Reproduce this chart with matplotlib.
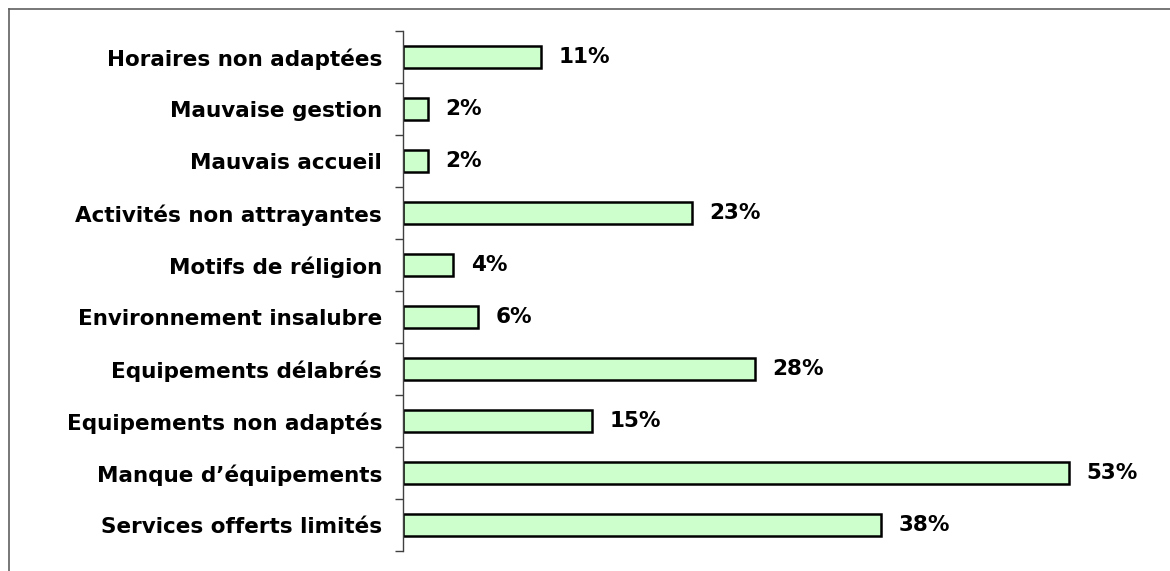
import numpy as np
import matplotlib.pyplot as plt
from matplotlib.lines import Line2D

# Raisons de non-fréquentation, du bas vers le haut
categories = ['Services offerts limités', 'Manque d\u2019équipements',
              'Equipements non adaptés', 'Equipements délabrés',
              'Environnement insalubre', 'Motifs de réligion',
              'Activités non attrayantes', 'Mauvais accueil',
              'Mauvaise gestion', 'Horaires non adaptées']
values = [38, 53, 15, 28, 6, 4, 23, 2, 2, 11]

plt.rcParams['font.family'] = 'DejaVu Sans'

fig = plt.figure(figsize=(11.7, 5.71), dpi=100)
ax = fig.add_axes([403 / 1170, 1 - 551 / 571, 747 / 1170, 520 / 571])

y = np.arange(len(categories))
ax.barh(y, values, height=0.41, color='#ccffcc', edgecolor='black',
        linewidth=1.8)
for yi, v in zip(y, values):
    ax.text(v + 1.4, yi, '{}%'.format(v), va='center', ha='left',
            fontsize=15.5, fontweight='bold')

ax.set_xlim(0, 747 / 12.57)
ax.set_ylim(-0.5, len(categories) - 0.5)

ax.set_yticks(y)
ax.set_yticklabels(categories, fontsize=15.5, fontweight='bold')
ax.tick_params(axis='y', which='major', length=0, pad=15)
ax.set_yticks(np.arange(-0.5, len(categories)), minor=True)
ax.tick_params(axis='y', which='minor', length=6, width=1, color='#404040',
               direction='out')
ax.set_xticks([])
for s in ['top', 'right', 'bottom']:
    ax.spines[s].set_visible(False)
ax.spines['left'].set_color('#404040')
ax.spines['left'].set_linewidth(1)

# cadre du graphique (haut et gauche)
fig.add_artist(Line2D([9 / 1170, 9 / 1170], [0, 1 - 9 / 571],
                      transform=fig.transFigure, color='#606060', lw=1.2))
fig.add_artist(Line2D([9 / 1170, 1], [1 - 9 / 571, 1 - 9 / 571],
                      transform=fig.transFigure, color='#606060', lw=1.2))

fig.savefig('out.png', dpi=100)
